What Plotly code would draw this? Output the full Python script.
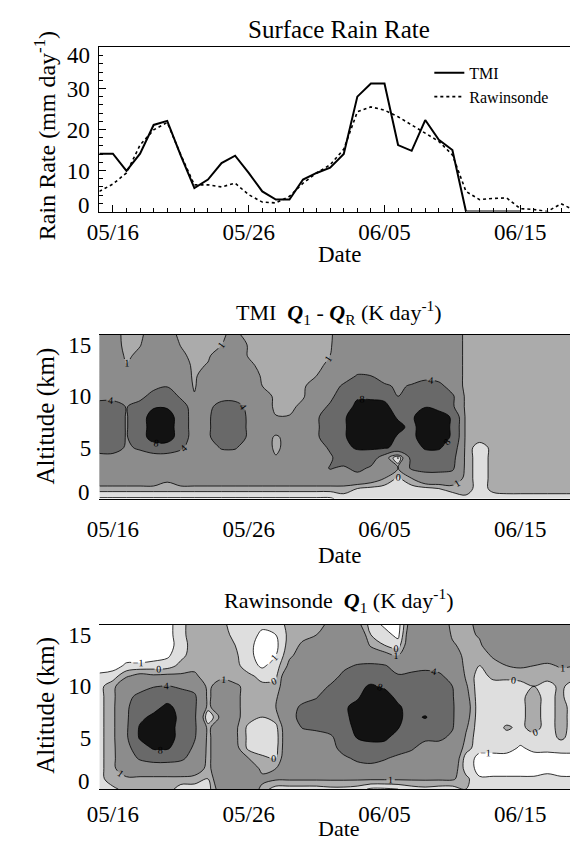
import numpy as np
import pandas as pd
import plotly.graph_objects as go

# ---------------- data ----------------
dates = pd.date_range("1998-05-15", periods=36, freq="D")
alt_km = [0, 1, 2, 3, 4, 5, 6, 7, 8, 9, 10, 11, 12, 13, 14, 15, 16]

tick_dates = ["1998-05-16", "1998-05-26", "1998-06-05", "1998-06-15"]
tick_text = ["05/16", "05/26", "06/05", "06/15"]
rain_ticks = [0, 10, 20, 30, 40]
alt_ticks = [0, 5, 10, 15]

rain_tmi = [14.1, 14.1, 9.9, 14.1, 21.1, 22.1, 13.6, 5.7, 7.8, 11.8, 13.6, 9.4, 4.9, 2.9, 2.9, 7.8,
            9.4, 10.7, 14.0, 28.0, 31.2, 31.2, 16.2, 14.8, 22.3, 17.5, 15.0, 0.0, 0.0, 0.0, 0.0, 0.0]
rain_raw = [4.9, 6.7, 9.4, 16.2, 19.9, 21.7, 13.8, 6.5, 6.5, 6.0, 6.9, 4.1, 2.3, 2.1, 3.7, 6.9,
            9.4, 11.4, 15.2, 24.3, 25.5, 24.7, 23.1, 21.1, 19.3, 17.1, 13.8, 4.9, 2.9, 3.2, 3.3, 0.7,
            0.5, 0.0, 1.9, 0.3]

# TMI Q1-QR (K/day): rows = altitude 0..16 km, columns = days 05/15..06/19
tmi_q1qr = [
    [-1.2,-1.2,-1.2,-1.2,-1.2,-1.2,-1.2,-1.2,-1.2,-1.2,-1.2,-1.2,-1.2,-1.2,-1.2,-1.2,-1.2,-1.2,-0.5,-0.5,-0.5,-0.5,-0.5,-0.5,-0.5,-0.5,-0.5,-0.3,-0.5,-0.5,-0.5,-0.5,-0.5,-0.5,-0.5,-0.5],
    [0.5,0.5,0.5,0.5,0.5,0.5,0.5,0.5,0.5,0.5,0.5,0.5,0.5,0.5,0.5,0.5,0.5,0.5,0.5,0.0,-0.3,-0.5,-0.6,-0.5,-0.3,0.0,0.3,0.5,-0.5,0.3,0.5,0.5,0.5,0.5,0.5,0.5],
    [2.5,2.5,2.5,2.5,2.5,1.3,2.5,2.5,2.5,2.5,2.5,2.5,2.5,2.5,2.5,2.5,2.5,2.5,2.5,2.5,2.0,1.0,-0.2,1.0,2.5,2.5,2.5,0.5,-0.5,0.3,0.5,0.5,0.5,0.5,0.5,0.5],
    [2.5,2.5,2.5,2.5,2.5,2.5,2.5,2.5,2.5,2.5,2.5,2.5,2.5,2.5,2.5,2.5,2.5,4.2,3.5,5.0,3.5,2.5,1.0,4.5,5.0,5.0,4.5,0.5,-0.5,0.3,0.5,0.5,0.5,0.5,0.5,0.5],
    [2.5,2.5,2.5,2.5,2.5,2.5,2.5,2.5,2.5,2.5,2.5,2.5,2.5,1.2,2.5,2.5,2.5,3.5,6.0,6.0,6.0,2.0,-1.2,5.0,6.0,6.0,5.0,0.5,-0.5,0.3,0.5,0.5,0.5,0.5,0.5,0.5],
    [6.0,6.0,3.5,4.5,6.0,6.0,4.5,2.5,2.5,4.3,4.3,2.5,2.5,0.5,2.0,2.5,2.5,4.5,7.0,8.5,8.5,8.5,7.0,6.0,8.5,8.5,6.0,0.5,-0.5,0.3,0.5,0.5,0.5,0.5,0.5,0.5],
    [6.0,6.0,3.8,6.0,10.0,10.0,6.0,2.5,3.5,6.0,6.0,3.5,2.5,0.6,2.0,2.5,3.5,6.0,7.5,10.0,10.0,10.0,7.5,7.0,10.0,10.0,7.5,0.5,0.5,0.5,0.5,0.5,0.5,0.5,0.5,0.5],
    [6.0,6.0,3.8,6.0,10.0,10.0,6.0,2.5,3.5,6.0,6.0,3.5,2.5,2.5,2.5,2.5,3.5,6.0,7.5,10.0,10.0,10.0,9.0,7.0,10.0,10.0,7.5,0.5,0.5,0.5,0.5,0.5,0.5,0.5,0.5,0.5],
    [6.0,6.0,3.8,6.0,10.0,10.0,6.0,2.5,3.5,6.0,6.0,3.5,2.5,1.1,1.1,2.5,3.5,6.0,7.5,10.0,10.0,10.0,7.5,7.5,10.0,10.0,7.5,0.5,0.5,0.5,0.5,0.5,0.5,0.5,0.5,0.5],
    [6.0,6.0,3.8,6.0,7.5,7.5,5.5,2.5,3.0,5.5,5.5,3.0,2.5,0.5,0.5,1.5,2.5,4.5,6.0,9.0,9.0,9.0,6.0,6.0,7.8,6.5,4.5,0.5,0.5,0.5,0.5,0.5,0.5,0.5,0.5,0.5],
    [2.5,2.5,2.5,2.5,6.0,6.0,3.5,1.15,2.5,2.5,2.5,2.5,2.5,0.4,0.4,0.8,2.5,3.2,6.0,7.5,7.5,7.0,4.0,5.0,6.5,6.0,4.5,0.5,0.5,0.5,0.5,0.5,0.5,0.5,0.5,0.5],
    [2.5,2.5,2.5,2.5,2.5,3.8,2.5,0.8,2.5,2.5,2.5,2.5,1.0,0.4,0.4,0.6,2.5,2.5,4.5,6.0,6.0,4.5,3.5,4.3,6.0,5.0,2.5,0.5,0.5,0.5,0.5,0.5,0.5,0.5,0.5,0.5],
    [2.5,2.5,2.5,2.5,2.5,2.5,2.5,0.6,2.5,2.5,2.5,2.5,0.7,0.4,0.4,0.4,1.0,2.5,2.5,4.2,4.0,2.5,2.5,2.5,2.5,2.5,2.5,0.5,0.5,0.5,0.5,0.5,0.5,0.5,0.5,0.5],
    [2.5,2.5,1.1,2.5,2.5,2.5,2.5,0.4,1.2,2.5,2.5,1.5,0.4,0.4,0.4,0.4,0.5,1.5,2.5,2.5,2.5,2.5,2.5,2.5,2.5,2.5,2.5,0.5,0.5,0.5,0.5,0.5,0.5,0.5,0.5,0.5],
    [2.5,2.5,0.6,1.5,2.5,2.5,1.5,0.3,0.6,2.5,2.5,0.8,0.4,0.4,0.4,0.4,0.4,1.0,2.5,2.5,2.5,2.5,2.5,2.5,2.5,2.5,2.5,0.5,0.5,0.5,0.5,0.5,0.5,0.5,0.5,0.5],
    [2.5,2.2,0.3,0.9,2.5,2.5,0.9,0.3,0.4,1.0,2.5,0.8,0.4,0.4,0.4,0.4,0.4,0.8,2.5,2.5,2.5,2.5,2.5,2.5,2.5,2.5,2.5,0.5,0.5,0.5,0.5,0.5,0.5,0.5,0.5,0.5],
    [2.5,2.0,0.3,0.5,2.5,2.0,0.5,0.3,0.5,0.8,1.4,0.4,0.3,0.3,0.3,0.3,0.5,0.7,2.5,2.5,2.5,2.5,2.5,2.5,2.5,2.5,2.5,0.5,0.5,0.5,0.5,0.5,0.5,0.5,0.5,0.5],
]

# Rawinsonde Q1 (K/day): one profile (0..16 km) per day 05/15..06/19
raw_q1_profiles = [
    [-0.5,-0.3,-0.3,-0.3,-0.3,-0.3,-0.3,-0.3,-0.3,-0.3,-0.3,-0.8,-1.5,-1.5,-1.5,-1.5,-1.5],
    [-0.2,0.5,0.6,0.6,0.6,0.6,0.6,0.6,0.6,0.6,0.6,-0.5,-1.5,-1.5,-1.5,-1.5,-1.5],
    [0.3,0.6,2.5,2.8,3.0,3.5,3.5,3.5,3.5,3.0,2.5,0.8,-0.8,-1.5,-1.5,-1.5,-1.5],
    [0.3,0.6,2.5,4.3,6.0,8.5,8.5,7.0,6.0,5.0,2.5,1.5,-0.8,-1.5,-1.5,-1.5,-1.5],
    [0.5,0.6,2.5,5.0,8.5,10.0,10.0,9.0,6.5,6.0,3.8,1.2,-0.6,-1.5,-1.5,-1.5,-1.5],
    [0.5,0.6,2.5,5.0,8.5,10.0,10.0,10.0,9.0,6.0,4.2,1.3,-0.5,-1.2,-1.5,-1.5,-1.5],
    [-0.5,0.6,2.5,4.5,6.0,6.5,6.5,7.0,6.5,5.5,3.5,1.2,0.3,-0.3,-0.5,-0.3,-0.3],
    [-0.5,0.5,2.0,3.0,3.5,4.3,4.5,4.5,4.5,4.5,3.0,1.2,0.7,0.5,0.5,0.5,0.5],
    [-0.5,0.0,0.6,0.6,0.6,0.6,0.6,-1.0,0.6,0.6,0.6,0.5,0.5,0.5,0.5,0.5,0.5],
    [2.0,2.5,2.5,2.5,2.5,2.5,2.5,1.5,2.5,2.5,2.0,0.5,0.5,0.3,0.3,0.3,0.3],
    [2.0,2.5,2.5,2.5,1.5,1.3,1.3,1.3,1.3,1.3,1.3,0.3,0.3,0.2,0.0,-0.2,-0.5],
    [2.5,2.5,2.5,1.0,-0.3,-0.3,-0.3,0.5,0.5,0.5,0.5,0.2,-0.5,-0.7,-0.7,-0.6,-0.6],
    [0.5,1.5,0.5,0.2,-0.5,-0.6,-0.5,0.0,0.5,0.5,0.2,-0.3,-1.2,-1.5,-1.5,-1.2,-0.8],
    [-0.5,1.2,1.0,0.0,-0.4,-0.5,-0.3,0.5,1.0,0.8,0.3,-0.2,-0.5,-1.0,-1.3,-1.0,-0.5],
    [-0.5,1.2,2.5,2.5,2.5,2.5,2.5,3.0,3.0,2.5,2.5,2.5,1.3,0.8,0.5,0.3,0.3],
    [-0.5,1.2,2.5,2.5,2.5,2.5,4.2,5.0,4.5,3.0,2.5,2.5,2.5,1.5,1.2,0.7,0.5],
    [-0.5,1.2,2.5,2.5,2.5,3.0,4.5,5.5,5.0,3.8,3.0,2.5,2.5,2.5,1.5,1.0,0.7],
    [-0.3,1.2,2.5,2.5,3.0,3.5,5.0,6.0,6.0,5.5,4.2,3.0,2.5,2.5,2.5,2.0,1.2],
    [-0.3,1.2,2.5,3.5,5.0,5.5,6.5,7.0,7.5,6.5,6.0,4.5,3.5,2.5,2.5,2.5,2.0],
    [-0.5,1.2,3.0,4.5,6.0,8.2,9.0,9.5,9.0,7.5,7.0,6.0,4.2,2.5,2.5,2.5,1.5],
    [-1.2,1.2,3.0,5.0,6.5,9.0,10.0,10.0,10.0,10.0,8.5,6.0,4.5,2.0,0.8,0.0,-0.5],
    [-1.2,1.2,3.0,4.2,6.0,9.0,10.0,10.0,10.0,9.5,7.5,5.5,4.2,1.5,0.0,-0.6,-1.2],
    [-1.0,1.2,2.5,3.5,5.0,6.0,8.2,8.5,8.5,7.0,6.0,4.2,3.0,1.0,-0.5,-1.3,-1.5],
    [-0.5,1.2,2.5,3.0,4.3,5.5,6.5,7.0,6.5,6.5,6.0,4.3,3.5,2.5,2.5,2.5,2.0],
    [-0.3,1.2,2.5,2.5,3.0,4.5,6.0,8.3,6.0,6.0,6.0,4.6,3.5,2.5,2.5,2.5,2.5],
    [-0.5,1.2,2.5,2.5,3.0,4.5,5.5,6.0,6.0,6.0,5.5,4.5,3.0,2.5,2.5,2.5,2.5],
    [-0.5,1.2,2.0,2.5,2.5,3.5,4.2,4.3,4.3,4.2,4.0,3.0,2.5,2.0,1.2,0.8,0.5],
    [0.0,0.3,-0.5,-0.5,0.5,0.8,1.2,1.6,1.8,1.5,1.2,0.8,0.6,0.5,0.5,0.5,0.5],
    [-0.5,-0.9,-1.3,-1.3,-0.7,-0.7,-0.7,-0.7,-0.7,-0.7,-0.7,-0.5,0.0,0.3,0.7,1.2,1.5],
    [-0.5,-0.9,-1.3,-1.3,-0.7,-0.7,-0.7,-0.7,-0.7,-0.7,-0.5,0.3,0.5,1.2,2.5,2.5,2.5],
    [-0.5,-0.9,-1.3,-1.3,-0.7,-0.5,0.2,-0.7,-0.7,-0.7,-0.5,0.3,1.0,2.0,2.5,2.5,2.5],
    [-0.5,-0.9,-1.3,-1.3,-1.1,-0.7,-0.3,-0.3,-0.3,-0.3,-0.3,0.3,1.2,2.0,2.5,2.5,2.5],
    [-0.5,-0.9,-1.3,-1.3,-0.8,-0.5,0.5,0.5,0.5,0.5,0.0,0.3,1.0,2.0,2.5,2.5,2.5],
    [-0.5,-0.9,-1.1,-1.3,-0.8,-0.5,-0.5,-0.5,-0.5,-0.5,-0.3,0.3,0.7,2.0,2.5,2.5,2.5],
    [-0.5,-0.9,-1.3,-1.3,-0.7,0.2,0.4,0.4,0.4,0.4,0.2,0.3,1.2,2.0,2.5,2.5,2.5],
    [-0.5,-0.9,-1.3,-1.3,-0.7,-0.5,-0.5,-0.5,-0.5,-1.5,-0.5,0.3,1.0,2.0,2.5,2.5,2.5],
]

contour_levels = [-1, 0, 1, 4, 8]
level_fills = ["#dedede", "#ababab", "#8c8c8c", "#696969", "#121212"]

# ---------------- figure ----------------
W, H = 578, 841
FONT = "Liberation Serif"
x0_px, x1_px = 81, 571


def py(px):
    return 1 - px / H


panels = {"top": (37.5, 202), "mid": (325.5, 490), "bot": (616, 781)}

fig = go.Figure()

fig.add_trace(go.Scatter(x=dates[:len(rain_tmi)], y=rain_tmi, mode="lines", name="TMI",
                         line=dict(color="black", width=2), xaxis="x", yaxis="y"))
fig.add_trace(go.Scatter(x=dates, y=rain_raw, mode="lines", name="Rawinsonde",
                         line=dict(color="black", width=1.6, dash="dot"), xaxis="x", yaxis="y"))


def add_contours(z, xa, ya):
    # each trace shades the part of the field above one contour level
    for lev, col in zip(contour_levels, level_fills):
        fig.add_trace(go.Contour(
            x=dates, y=alt_km, z=z, xaxis=xa, yaxis=ya,
            contours=dict(type="constraint", operation="<", value=lev, showlabels=True,
                          labelfont=dict(family=FONT, size=10, color="black")),
            fillcolor=col, line=dict(color="black", width=0.8),
            showscale=False, showlegend=False, hoverinfo="skip"))


add_contours(np.array(tmi_q1qr), "x2", "y2")
add_contours(np.array(raw_q1_profiles).T, "x3", "y3")

xrange = ["1998-05-15", "1998-06-19 08:00"]
xdom = [x0_px / W, x1_px / W]
TICKF = dict(family=FONT, size=23, color="black")

common_x = dict(range=xrange, domain=xdom, tickvals=tick_dates, ticktext=tick_text,
                tickfont=TICKF, showline=True, linecolor="black", linewidth=1, mirror=True,
                showgrid=False, zeroline=False)


def inner_labels(vals):
    # end labels are drawn as separate texts (nudged inside the frame, as in the original)
    return ["" if (v == vals[0] or v == vals[-1]) else str(v) for v in vals]


fig.update_layout(
    width=W, height=H, margin=dict(l=0, r=0, t=0, b=0), autosize=False,
    paper_bgcolor="white", plot_bgcolor="white",
    font=dict(family=FONT, color="black"),
    showlegend=True,
    legend=dict(x=418 / W, y=py(46), xanchor="left", yanchor="top",
                bgcolor="rgba(0,0,0,0)", font=dict(family=FONT, size=16),
                itemwidth=30, tracegroupgap=0),
    xaxis=dict(**common_x, anchor="y", ticks="inside", ticklen=7, tickcolor="black",
               minor=dict(dtick=86400000, ticks="inside", ticklen=4, tickcolor="black")),
    yaxis=dict(domain=[py(panels["top"][1]), py(panels["top"][0])], anchor="x",
               range=[0, 40], tickvals=rain_ticks, ticktext=inner_labels(rain_ticks),
               tickfont=TICKF, ticks="inside", ticklen=7, tickcolor="black", ticklabelstandoff=4,
               minor=dict(dtick=2, ticks="inside", ticklen=4, tickcolor="black"),
               showline=True, linecolor="black", linewidth=1, mirror="ticks",
               showgrid=False, zeroline=False),
    xaxis2=dict(**common_x, anchor="y2", ticks="", ticklabelstandoff=10),
    yaxis2=dict(domain=[py(panels["mid"][1]), py(panels["mid"][0])], anchor="x2",
                range=[0, 16], tickvals=alt_ticks[1:], tickfont=TICKF, ticks="",
                ticklabelstandoff=7, showgrid=False, zeroline=False),
    xaxis3=dict(**common_x, anchor="y3", ticks="", ticklabelstandoff=4),
    yaxis3=dict(domain=[py(panels["bot"][1]), py(panels["bot"][0])], anchor="x3",
                range=[0, 16], tickvals=alt_ticks[1:], tickfont=TICKF, ticks="",
                ticklabelstandoff=7, showgrid=False, zeroline=False),
)

# end tick labels nudged inward
lab_x = (x0_px - 7) / W
end_labels = [
    (str(rain_ticks[0]), "y", rain_ticks[0], 6),
    (str(rain_ticks[-1]), "y", rain_ticks[-1], -8),
    (str(alt_ticks[0]), "y2", alt_ticks[0], 6),
    (str(alt_ticks[0]), "y3", alt_ticks[0], 8),
]
for txt, yref, yv, shift in end_labels:
    fig.add_annotation(text=txt, x=lab_x, y=yv, xref="paper", yref=yref, xanchor="right",
                       yanchor="middle", yshift=shift, showarrow=False, font=TICKF)

cx = (x0_px + x1_px) / 2 / W
ann = [
    ("Surface Rain Rate", cx, 19.5, 0, 25),
    ("TMI  <b><i>Q</i></b><sub>1</sub> - <b><i>Q</i></b><sub>R</sub> (K day<sup>-1</sup>)", cx, 303, 0, 22),
    ("Rawinsonde  <b><i>Q</i></b><sub>1</sub> (K day<sup>-1</sup>)", cx, 592, 0, 22),
    ("Date", cx, 245, 0, 23),
    ("Date", cx, 547, 0, 23),
    ("Date", cx, 820, 0, 22),
    ("Rain Rate (mm day<sup>-1</sup>)", 25 / W, 126, -90, 24),
    ("Altitude (km)", 27 / W, 407, -90, 25),
    ("Altitude (km)", 27 / W, 697, -90, 25),
]
for text, x, ypx, ang, fs in ann:
    fig.add_annotation(text=text, x=x, y=py(ypx), xref="paper", yref="paper",
                       showarrow=False, textangle=ang, xanchor="center", yanchor="middle",
                       font=dict(family=FONT, size=fs, color="black"))

fig.write_html("out.html")
